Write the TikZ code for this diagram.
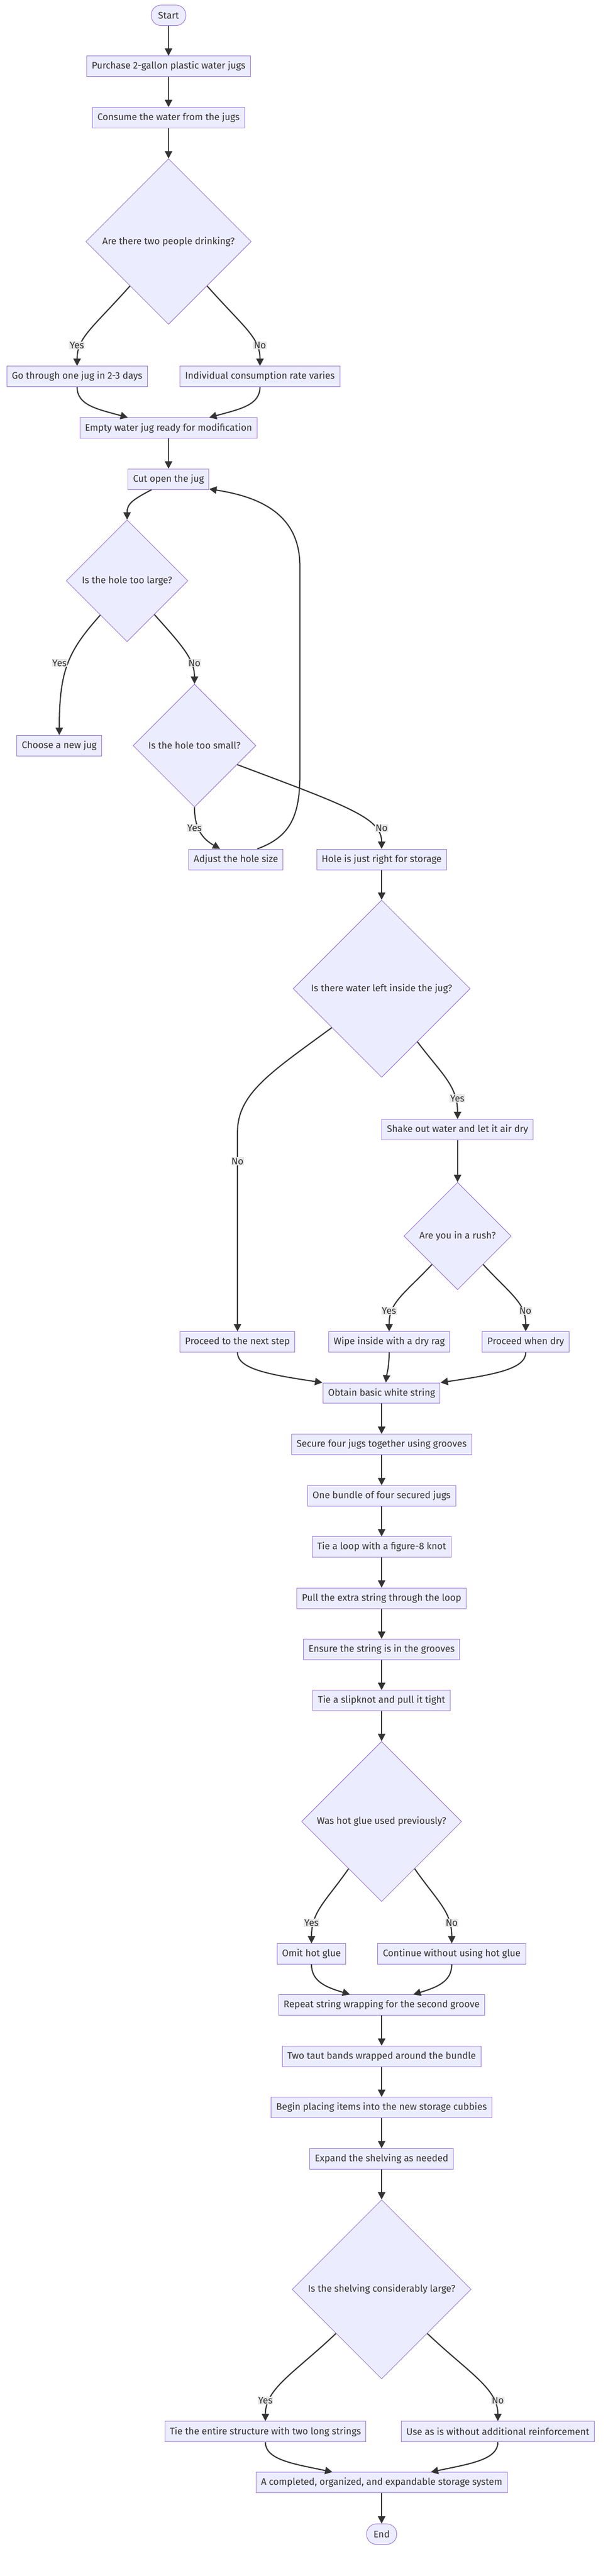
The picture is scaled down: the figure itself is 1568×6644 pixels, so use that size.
\documentclass[tikz,border=0pt]{standalone}
\usepackage{fontspec}
\setmainfont{Fira Sans}
\usetikzlibrary{arrows.meta,shapes.geometric}
\definecolor{nodefill}{HTML}{ECECFF}
\definecolor{nodeline}{HTML}{9370DB}
\definecolor{edgeline}{HTML}{333333}
\definecolor{lblfill}{HTML}{E8E8E8}
\tikzset{
  stepbox/.style={draw=nodeline, fill=nodefill, line width=1.3pt, minimum height=53pt, inner xsep=13pt, text=edgeline, font=\fontsize{24.5}{28}\selectfont},
  termbox/.style={stepbox, rounded corners=26pt, inner xsep=18pt},
  decision/.style={diamond, aspect=1, draw=nodeline, fill=nodefill, line width=1.3pt, inner sep=0pt, text=edgeline, font=\fontsize{24.5}{28}\selectfont},
  flow/.style={draw=edgeline, line width=3pt, -{Triangle[width=19pt,length=19pt]}},
  answer/.style={fill=lblfill, inner sep=1.5pt, text=edgeline, font=\fontsize{24.5}{28}\selectfont}
}
\begin{document}
\begin{tikzpicture}[x=1pt, y=-1pt]
\fill[white] (0,0) rectangle (1568,6644);
\useasboundingbox (0,0) rectangle (1568,6644);

% steps
\node[termbox] (start) at (435,39.5) {Start};
\node[stepbox] (buy) at (435,171) {Purchase 2-gallon plastic water jugs};
\node[stepbox] (drink) at (435,303.5) {Consume the water from the jugs};
\node[decision, minimum size=427pt] (people) at (435,623) {Are there two people drinking?};
\node[stepbox] (pair) at (199,971) {Go through one jug in 2-3 days};
\node[stepbox] (single) at (671,971) {Individual consumption rate varies};
\node[stepbox] (empty) at (435,1104) {Empty water jug ready for modification};
\node[stepbox] (cut) at (435,1236) {Cut open the jug};
\node[decision, minimum size=314pt] (large) at (328,1498) {Is the hole too large?};
\node[stepbox] (newjug) at (153,1923) {Choose a new jug};
\node[decision, minimum size=317pt] (small) at (502,1923) {Is the hole too small?};
\node[stepbox] (adjust) at (609,2216.5) {Adjust the hole size};
\node[stepbox] (right) at (985,2216.5) {Hole is just right for storage};
\node[decision, minimum size=457pt] (water) at (985,2550) {Is there water left inside the jug?};
\node[stepbox] (shake) at (1181,2913.5) {Shake out water and let it air dry};
\node[decision, minimum size=277pt] (rush) at (1181,3188) {Are you in a rush?};
\node[stepbox] (next) at (613,3461) {Proceed to the next step};
\node[stepbox] (wipe) at (1004.5,3461) {Wipe inside with a dry rag};
\node[stepbox] (dry) at (1357,3461) {Proceed when dry};
\node[stepbox] (string) at (985,3593) {Obtain basic white string};
\node[stepbox] (secure) at (985,3725.5) {Secure four jugs together using grooves};
\node[stepbox] (bundle) at (985,3858) {One bundle of four secured jugs};
\node[stepbox] (loop) at (985,3990) {Tie a loop with a figure-8 knot};
\node[stepbox] (pull) at (985,4122) {Pull the extra string through the loop};
\node[stepbox] (ensure) at (985,4254) {Ensure the string is in the grooves};
\node[stepbox] (slip) at (985,4386) {Tie a slipknot and pull it tight};
\node[decision, minimum size=413pt] (glue) at (985,4698) {Was hot glue used previously?};
\node[stepbox] (omit) at (804,5039.5) {Omit hot glue};
\node[stepbox] (noglue) at (1166,5039.5) {Continue without using hot glue};
\node[stepbox] (repeat) at (985,5171) {Repeat string wrapping for the second groove};
\node[stepbox] (bands) at (985,5303.5) {Two taut bands wrapped around the bundle};
\node[stepbox] (place) at (985,5435.6) {Begin placing items into the new storage cubbies};
\node[stepbox] (expand) at (985,5568) {Expand the shelving as needed};
\node[decision, minimum size=462pt] (shelf) at (985,5904.6) {Is the shelving considerably large?};
\node[stepbox] (tie) at (685,6271.6) {Tie the entire structure with two long strings};
\node[stepbox] (asis) at (1285,6271.6) {Use as is without additional reinforcement};
\node[stepbox] (done) at (985,6403) {A completed, organized, and expandable storage system};
\node[termbox] (stop) at (985,6536) {End};

% straight links
\foreach \a/\b in {start/buy,buy/drink,drink/people,empty/cut,right/water,shake/rush,string/secure,secure/bundle,bundle/loop,loop/pull,pull/ensure,ensure/slip,slip/glue,repeat/bands,bands/place,place/expand,expand/shelf,done/stop}
{
    \draw[flow] (\a)--(\b);
}

% curved links
\draw[flow] (people.229) .. controls (240,845) and (199,870) .. (pair.north);
\draw[flow] (people.311) .. controls (630,845) and (671,870) .. (single.north);
\draw[flow] (pair.south) .. controls (199,1045) and (250,1055) .. ([xshift=-105pt]empty.north);
\draw[flow] (single.south) .. controls (671,1045) and (620,1055) .. ([xshift=105pt]empty.north);
\draw[flow] ([xshift=-44pt]cut.south) .. controls (340,1290) and (328,1300) .. (large.north);
\draw[flow] (large.232) .. controls (175,1680) and (153,1730) .. (newjug.north);
\draw[flow] (large.309) .. controls (470,1665) and (502,1700) .. (small.north);
\draw[flow] (small.south) .. controls (502,2140) and (525,2165) .. ([xshift=-41pt]adjust.north);
\draw[flow] (small.336) .. controls (900,2080) and (985,2110) .. (right.north);
\draw[flow] ([xshift=55pt]adjust.north) .. controls (745,2160) and (774,2110) .. (774,2000) -- (774,1460) .. controls (774,1320) and (660,1280) .. ([yshift=2pt]cut.south east);
\draw[flow] (water.304) .. controls (1140,2770) and (1181,2800) .. (shake.north);
\draw[flow] (water.218) .. controls (700,2765) and (613,2820) .. (613,2920) -- (next.north);
\draw[flow] (rush.228) .. controls (1040,3340) and (1004,3360) .. (wipe.north);
\draw[flow] (rush.312) .. controls (1320,3340) and (1357,3360) .. (dry.north);
\draw[flow] (next.south) .. controls (613,3530) and (690,3545) .. ([xshift=-153pt]string.north);
\draw[flow] (wipe.south) .. controls (1004,3530) and (998,3545) .. ([xshift=11pt]string.north);
\draw[flow] (dry.south) .. controls (1357,3530) and (1280,3545) .. ([xshift=152pt]string.north);
\draw[flow] (glue.235) .. controls (840,4905) and (804,4930) .. (omit.north);
\draw[flow] (glue.305) .. controls (1130,4905) and (1166,4930) .. (noglue.north);
\draw[flow] (omit.south) .. controls (804,5110) and (840,5125) .. ([xshift=-82pt]repeat.north);
\draw[flow] (noglue.south) .. controls (1166,5110) and (1130,5125) .. ([xshift=82pt]repeat.north);
\draw[flow] (shelf.224) .. controls (760,6120) and (685,6160) .. (tie.north);
\draw[flow] (shelf.316) .. controls (1210,6120) and (1285,6160) .. (asis.north);
\draw[flow] (tie.south) .. controls (685,6345) and (760,6355) .. ([xshift=-127pt]done.north);
\draw[flow] (asis.south) .. controls (1285,6345) and (1210,6355) .. ([xshift=127pt]done.north);

% answers
\node[answer] (y1) at (198.5,891) {Yes};
\node[answer] (n1) at (671,891) {No};
\node[answer] (y2) at (153.6,1710) {Yes};
\node[answer] (n2) at (502,1710) {No};
\node[answer] (y3) at (502,2136) {Yes};
\node[answer] (n3) at (985,2136) {No};
\node[answer] (y4) at (1180.6,2833) {Yes};
\node[answer] (n4) at (613,2995) {No};
\node[answer] (y5) at (1004,3381) {Yes};
\node[answer] (n5) at (1356,3381) {No};
\node[answer] (y6) at (804,4959) {Yes};
\node[answer] (n6) at (1166,4959) {No};
\node[answer] (y7) at (685,6191) {Yes};
\node[answer] (n7) at (1285,6191) {No};

\end{tikzpicture}
\end{document}
